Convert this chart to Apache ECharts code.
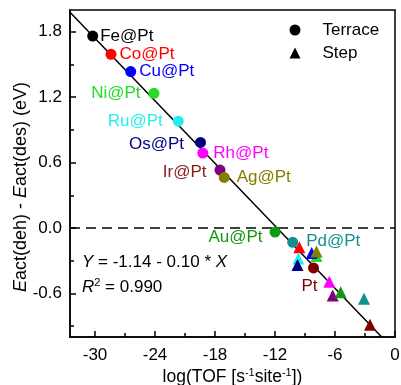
<!DOCTYPE html>
<html><head><meta charset="utf-8">
<script src="https://cdn.jsdelivr.net/npm/echarts@6/dist/echarts.min.js"></script>
<style>html,body{margin:0;padding:0;background:#fff}#c{width:401px;height:385px}</style>
</head><body><div id="c"></div>
<script>
// ---- data ----
const terraceNames = ['Fe@Pt','Co@Pt','Cu@Pt','Ni@Pt','Ru@Pt','Os@Pt','Rh@Pt','Ir@Pt','Ag@Pt','Au@Pt','Pd@Pt','Pt'];
const terraceX = [-30.23,-28.4,-26.43,-24.1,-21.67,-19.45,-19.22,-17.5,-17.08,-12.0,-10.23,-8.15];
const terraceY = [1.761,1.593,1.435,1.236,0.98,0.785,0.687,0.531,0.464,-0.037,-0.131,-0.366];
const stepNames = ['Ni','Cu','Ag','Co','Ru','Os','Rh','Ir','Au','Pd','Pt'];
const stepX = [-7.85,-8.33,-7.85,-9.57,-9.67,-9.75,-6.57,-6.23,-5.43,-3.1,-2.5];
const stepY = [-0.256,-0.229,-0.215,-0.177,-0.279,-0.339,-0.492,-0.62,-0.589,-0.65,-0.888];
const fitX = [-32.5, -1.33];
const fitY = [1.98, -1.0];
const zeroX = [-32.5, 0];
const zeroY = [0, 0];
const xTicks = [-30,-24,-18,-12,-6,0];
const xMinor = [-27,-21,-15,-9,-3];
const yTicks = [-0.6,0,0.6,1.2,1.8];
const yMinor = [-0.9,-0.3,0.3,0.9,1.5];
const xRange = [-32.5, 0];
const yRange = [-1, 2];

// ---- styles ----
const colors = {
  Fe:'#000000', Co:'#ff0000', Cu:'#0000ff', Ni:'#22dd22', Ru:'#22eeee', Os:'#000080',
  Rh:'#ff00ff', Ir:'#800080', Ag:'#808000', Au:'#119911', Pd:'#119090', Pt:'#800000'
};
const labelColors = { Ir:'#8b1a1a' };
const labelPlace = {
  'Fe@Pt': {position:'right', distance:2},
  'Co@Pt': {position:'right', distance:3},
  'Cu@Pt': {position:'right', distance:3},
  'Ni@Pt': {position:'left', distance:8},
  'Ru@Pt': {position:'left', distance:10},
  'Os@Pt': {position:'left', distance:11, offset:[0,2]},
  'Rh@Pt': {position:'right', distance:5},
  'Ir@Pt': {position:'left', distance:8, offset:[0,2]},
  'Ag@Pt': {position:'right', distance:7},
  'Au@Pt': {position:'left', distance:7, offset:[0,5]},
  'Pd@Pt': {position:'right', distance:8, offset:[0,-1]},
  'Pt':    {position:'bottom', distance:4, offset:[-4,0]}
};
const FONT = 'Liberation Sans, Arial, sans-serif';
const el = n => n.replace('@Pt','');

const terraceData = terraceNames.map((n,i) => ({
  name:n, value:[terraceX[i], terraceY[i]],
  itemStyle:{color:colors[el(n)]},
  label:Object.assign({show:true, formatter:n, color:labelColors[el(n)] || colors[el(n)],
    fontSize:17, fontFamily:FONT}, labelPlace[n])
}));
const stepData = stepNames.map((n,i) => ({
  name:n, value:[stepX[i], stepY[i]], itemStyle:{color:colors[n]}
}));

const baseLabel = {fontSize:17, color:'#000', fontFamily:FONT};
const gridBox = {left:70, right:6, top:10, bottom:48, outerBoundsMode:'none', containLabel:false};
const chart = echarts.init(document.getElementById('c'));
chart.setOption({
  animation:false,
  backgroundColor:'#fff',
  grid:[Object.assign({show:true, borderColor:'#000', borderWidth:1.5}, gridBox),
        Object.assign({show:false}, gridBox)],
  legend:{
    orient:'vertical', left:289.5, top:21, padding:0, itemWidth:11, itemHeight:11, itemGap:5, selectedMode:false,
    textStyle:{fontSize:17, color:'#000', fontFamily:FONT, padding:[0,0,0,17], lineHeight:18},
    data:[{name:'Terrace', icon:'circle', itemStyle:{color:'#000'}},
          {name:'Step', icon:'triangle', itemStyle:{color:'#000'}}]
  },
  xAxis:[{
    type:'value', gridIndex:0, min:xRange[0], max:xRange[1], position:'bottom',
    axisLine:{show:true, onZero:false, lineStyle:{color:'#000', width:1.5}},
    axisTick:{show:true, inside:true, length:6, customValues:xTicks, lineStyle:{color:'#000', width:1.5}},
    axisLabel:Object.assign({customValues:xTicks, margin:10}, baseLabel),
    splitLine:{show:false},
    name:'{n|log(TOF [s}{s|-1}{n|site}{s|-1}{n|])}', nameLocation:'middle', nameGap:30, nameMoveOverlap:false,
    nameTextStyle:{rich:{
      n:{fontSize:17.5, fontFamily:FONT, color:'#000', lineHeight:20},
      s:{fontSize:11, fontFamily:FONT, color:'#000', lineHeight:12, verticalAlign:'top'}
    }}
  },{
    type:'value', gridIndex:1, min:xRange[0], max:xRange[1], position:'bottom',
    axisLine:{show:false, onZero:false}, axisLabel:{show:false}, splitLine:{show:false},
    axisTick:{show:true, inside:true, length:4, customValues:xMinor, lineStyle:{color:'#000', width:1.5}}
  }],
  yAxis:[{
    type:'value', gridIndex:0, min:yRange[0], max:yRange[1], position:'left',
    axisLine:{show:true, onZero:false, lineStyle:{color:'#000', width:1.5}},
    axisTick:{show:true, inside:true, length:6, customValues:yTicks, lineStyle:{color:'#000', width:1.5}},
    axisLabel:Object.assign({customValues:yTicks, margin:8, formatter:v => v.toFixed(1)}, baseLabel),
    splitLine:{show:false},
    name:'{i|E}{n|act(deh) - }{i|E}{n|act(des) (eV)}', nameLocation:'middle', nameGap:40, nameRotate:90,
    nameMoveOverlap:false,
    nameTextStyle:{padding:[0,27,0,0], rich:{
      n:{fontSize:18, fontFamily:FONT, color:'#000'},
      i:{fontSize:18, fontFamily:FONT, color:'#000', fontStyle:'italic'}
    }}
  },{
    type:'value', gridIndex:1, min:yRange[0], max:yRange[1], position:'left',
    axisLine:{show:false, onZero:false}, axisLabel:{show:false}, splitLine:{show:false},
    axisTick:{show:true, inside:true, length:4, customValues:yMinor, lineStyle:{color:'#000', width:1.5}}
  }],
  graphic:[
    {type:'text', left:82, top:254, style:{text:'{i|Y}{n| = -1.14 - 0.10 * }{i|X}', rich:{
      n:{fontSize:17, fontFamily:FONT, fill:'#000', lineHeight:20},
      i:{fontSize:17, fontFamily:FONT, fill:'#000', fontStyle:'italic', lineHeight:20}}}},
    {type:'text', left:82, top:277, style:{text:'{i|R}{s|2}{n| = 0.990}', rich:{
      n:{fontSize:17, fontFamily:FONT, fill:'#000', lineHeight:20},
      i:{fontSize:17, fontFamily:FONT, fill:'#000', fontStyle:'italic', lineHeight:20},
      s:{fontSize:11, fontFamily:FONT, fill:'#000', lineHeight:12, verticalAlign:'top'}}}}
  ],
  series:[
    {type:'line', name:'fit', xAxisIndex:0, yAxisIndex:0, data:fitX.map((x,i)=>[x,fitY[i]]), symbol:'none',
     lineStyle:{color:'#000', width:1.5}, z:1, silent:true},
    {type:'line', name:'zero', xAxisIndex:0, yAxisIndex:0, data:zeroX.map((x,i)=>[x,zeroY[i]]), symbol:'none',
     lineStyle:{color:'#000', width:1.5, type:[10,6], dashOffset:0}, z:1, silent:true},
    {type:'scatter', name:'Step', xAxisIndex:0, yAxisIndex:0, symbol:'triangle', symbolSize:12, data:stepData,
     itemStyle:{color:'#000', opacity:1}, z:3},
    {type:'scatter', name:'Terrace', xAxisIndex:0, yAxisIndex:0, symbol:'circle', symbolSize:11, data:terraceData,
     itemStyle:{color:'#000', opacity:1}, z:4}
  ]
});
</script>
</body></html>
